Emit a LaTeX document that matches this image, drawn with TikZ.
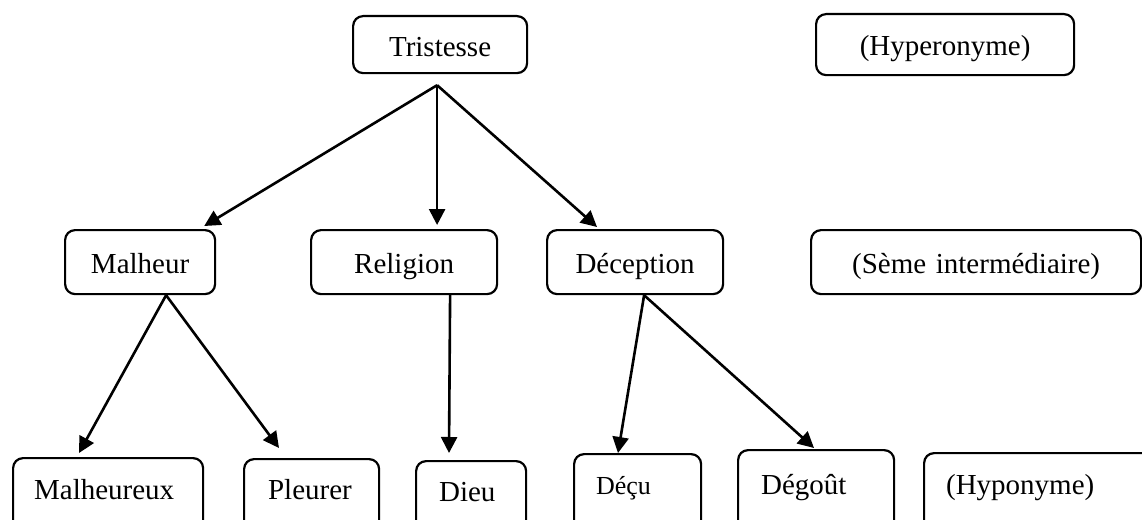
\documentclass[tikz,border=0pt]{standalone}
\usepackage{fontspec}
\setmainfont{Liberation Serif}
\usetikzlibrary{calc,arrows.meta}

\tikzset{
  box/.style={draw, line width=2.2pt, rounded corners=10pt, inner ysep=0pt,
              anchor=north west, font=\fontsize{29pt}{34pt}\selectfont},
  centred/.style={align=center, inner xsep=0pt},
  lefted/.style={align=left},
  arr/.style={-{Triangle[length=16pt,width=16pt]}, line width=2.6pt}
}

\begin{document}
\begin{tikzpicture}[x=1pt,y=-1pt]
  \useasboundingbox (0,0) rectangle (1142,519);
  \clip (0,0) rectangle (1142,519);
  \fill[white] (0,0) rectangle (1142,519);

  % top row
  \node[box, centred, text width=174pt, text height=40pt, text depth=17pt]
    (tristesse) at (352,15) {Tristesse};
  \node[box, centred, text width=258pt, text height=41pt, text depth=20pt]
    (hyper) at (815,13) {(Hyperonyme)};

  % middle row
  \node[box, centred, text width=150pt, text height=43pt, text depth=21pt]
    (malheur) at (64,229) {Malheur};
  \node[box, centred, text width=186pt, text height=43pt, text depth=21pt]
    (religion) at (310,229) {Religion};
  \node[box, centred, text width=176pt, text height=43pt, text depth=21pt]
    (deception) at (546,229) {Déception};
  \node[box, centred, text width=330pt, text height=43pt, text depth=21pt]
    (seme) at (810,229) {(Sème intermédiaire)};

  % bottom row (boxes run below the lower edge)
  \node[box, lefted, inner xsep=21pt, text width=148pt, text height=41pt, text depth=50pt]
    (malheureux) at (12,457) {Malheureux};
  \node[box, lefted, inner xsep=24pt, text width=87pt, text height=40pt, text depth=50pt]
    (pleurer) at (243,458) {Pleurer};
  \node[box, lefted, inner xsep=23pt, text width=64pt, text height=40pt, text depth=50pt]
    (dieu) at (415,460) {Dieu};
  \node[box, lefted, inner xsep=22pt, text width=83pt, text height=40pt, text depth=50pt,
        font=\fontsize{26pt}{30pt}\selectfont]
    (decu) at (573,453) {Déçu};
  \node[box, lefted, inner xsep=23pt, text width=110pt, text height=44pt, text depth=50pt]
    (degout) at (737,449) {Dégoût};
  \node[box, lefted, inner xsep=22pt, text width=200pt, text height=41pt, text depth=50pt]
    (hypo) at (923,452) {(Hyponyme)};

  % connectors
  \coordinate (fork) at ($(tristesse.south)+(-3,11)$);
  \draw[arr] (fork) -- ($(malheur.north east)+(-12,-3)$);
  \draw[arr] (fork) -- ($(religion.north)+(33,-4)$);
  \draw[arr] (fork) -- ($(deception.north west)+(51,-2)$);

  \coordinate (mfoot) at ($(malheur.south)+(26,0)$);
  \draw[arr] (mfoot) -- ($(malheureux.north west)+(67,-4)$);
  \draw[arr] (mfoot) -- ($(pleurer.north west)+(36,-10)$);

  \draw[arr] ($(religion.south)+(46,0)$) -- ($(dieu.north west)+(34,-7)$);

  \coordinate (dfoot) at ($(deception.south)+(9,0)$);
  \draw[arr] (dfoot) -- ($(decu.north west)+(45,0)$);
  \draw[arr] (dfoot) -- ($(degout.north west)+(77,-1)$);
\end{tikzpicture}
\end{document}
